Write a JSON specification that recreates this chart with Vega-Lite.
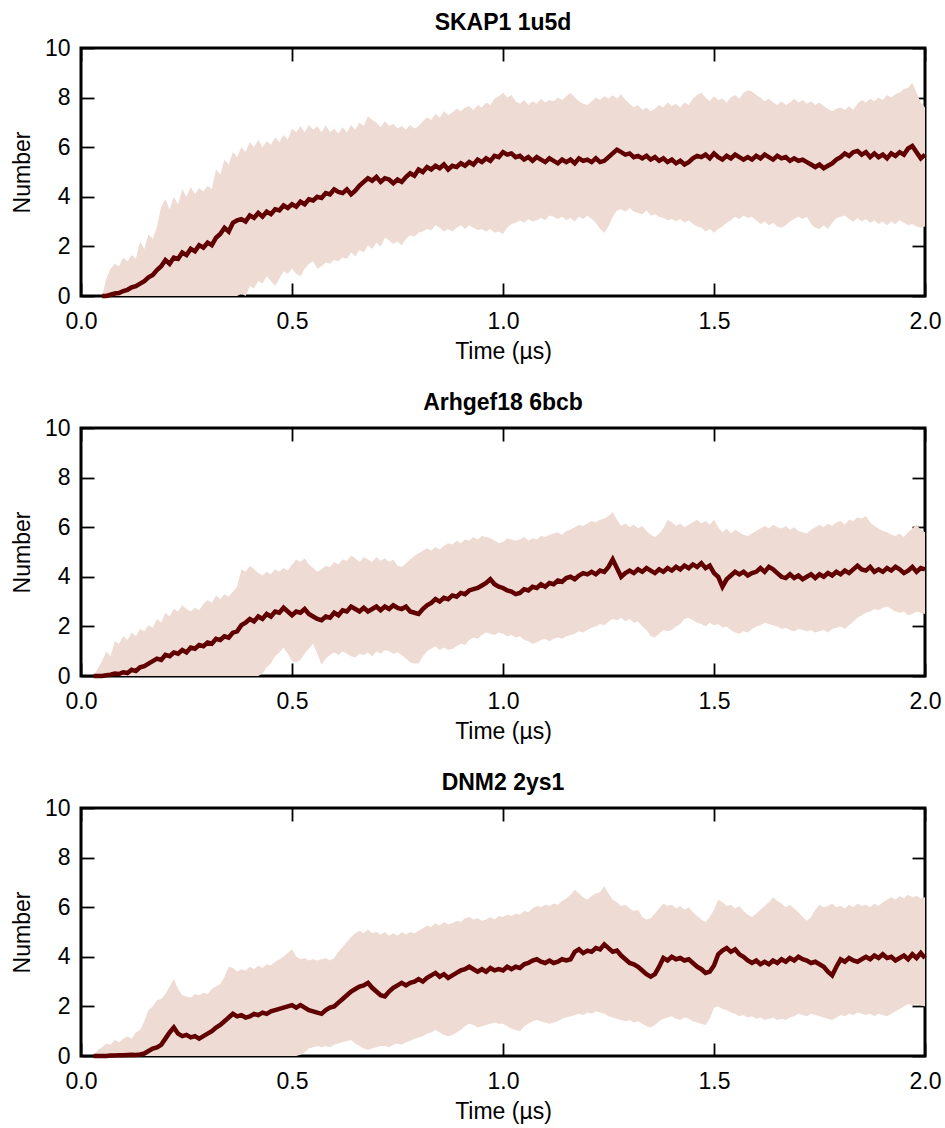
{
"$schema":"https://vega.github.io/schema/vega-lite/v6.json",
"padding":{"left":9,"top":10,"right":15,"bottom":5},
"bounds":"flush",
"spacing":132,
"config":{
 "view":{"stroke":"black","strokeWidth":3},
 "font":"Liberation Sans",
 "axis":{"labelFont":"Liberation Sans","labelFontSize":23,"labelColor":"black","titleFont":"Liberation Sans","titleFontSize":23,"titleFontWeight":"normal","titleColor":"black","tickColor":"black","tickWidth":1.8,"tickSize":-13,"domain":false,"grid":false,"labelFlush":false,"labelOverlap":false,"labelBound":false},
 "title":{"font":"Liberation Sans","fontSize":23,"fontWeight":"bold","color":"black","offset":2,"baseline":"alphabetic"}
},
"datasets":{
"a":[
{"t":0.05,"m":0,"l":0,"h":0},{"t":0.06,"m":0,"l":0,"h":0.7},{"t":0.07,"m":0.05,"l":0,"h":1.1},{"t":0.08,"m":0.1,"l":0,"h":1.3},{"t":0.09,"m":0.12,"l":0,"h":1.2},{"t":0.1,"m":0.2,"l":0,"h":1.55},{"t":0.11,"m":0.25,"l":0,"h":1.4},{"t":0.12,"m":0.35,"l":0,"h":1.65},{"t":0.13,"m":0.4,"l":0,"h":1.5},{"t":0.14,"m":0.5,"l":0,"h":2.2},{"t":0.15,"m":0.6,"l":0,"h":1.9},{"t":0.16,"m":0.75,"l":0,"h":2.5},{"t":0.17,"m":0.85,"l":0,"h":2.3},{"t":0.18,"m":1.05,"l":0,"h":2.8},{"t":0.19,"m":1.2,"l":0,"h":3.6},{"t":0.2,"m":1.45,"l":0,"h":3.9},{"t":0.21,"m":1.3,"l":0,"h":3.5},{"t":0.22,"m":1.55,"l":0,"h":4.0},{"t":0.23,"m":1.5,"l":0,"h":3.7},{"t":0.24,"m":1.75,"l":0,"h":4.3},{"t":0.25,"m":1.65,"l":0,"h":4.0},{"t":0.26,"m":1.9,"l":0,"h":4.4},{"t":0.27,"m":1.8,"l":0,"h":4.1},{"t":0.28,"m":2.05,"l":0,"h":4.35},{"t":0.29,"m":1.95,"l":0,"h":4.2},{"t":0.3,"m":2.15,"l":0,"h":4.45},{"t":0.31,"m":2.05,"l":0,"h":4.3},{"t":0.32,"m":2.35,"l":0,"h":5.1},{"t":0.33,"m":2.5,"l":0,"h":4.9},{"t":0.34,"m":2.75,"l":0,"h":5.5},{"t":0.35,"m":2.6,"l":0,"h":5.3},{"t":0.36,"m":2.95,"l":0,"h":5.8},{"t":0.37,"m":3.05,"l":0,"h":5.6},{"t":0.38,"m":3.1,"l":0.1,"h":6.0},{"t":0.39,"m":3.0,"l":0,"h":5.8},{"t":0.4,"m":3.25,"l":0.4,"h":6.2},{"t":0.41,"m":3.15,"l":0.3,"h":6.0},{"t":0.42,"m":3.35,"l":0.6,"h":6.3},{"t":0.43,"m":3.2,"l":0.5,"h":6.0},{"t":0.44,"m":3.4,"l":0.8,"h":6.25},{"t":0.45,"m":3.3,"l":0.6,"h":6.1},{"t":0.46,"m":3.5,"l":0.4,"h":6.4},{"t":0.47,"m":3.45,"l":0.7,"h":6.2},{"t":0.48,"m":3.65,"l":1.0,"h":6.5},{"t":0.49,"m":3.55,"l":0.9,"h":6.3},{"t":0.5,"m":3.7,"l":1.1,"h":6.75},{"t":0.51,"m":3.6,"l":0.9,"h":6.6},{"t":0.52,"m":3.8,"l":0.8,"h":6.85},{"t":0.53,"m":3.7,"l":1.1,"h":6.6},{"t":0.54,"m":3.9,"l":1.3,"h":6.9},{"t":0.55,"m":3.85,"l":1.4,"h":6.7},{"t":0.56,"m":4.0,"l":1.1,"h":6.85},{"t":0.57,"m":3.95,"l":1.2,"h":6.6},{"t":0.58,"m":4.15,"l":1.35,"h":6.9},{"t":0.59,"m":4.1,"l":1.3,"h":6.6},{"t":0.6,"m":4.3,"l":1.45,"h":6.75},{"t":0.61,"m":4.2,"l":1.4,"h":6.55},{"t":0.62,"m":4.15,"l":1.55,"h":6.8},{"t":0.63,"m":4.3,"l":1.5,"h":6.6},{"t":0.64,"m":4.1,"l":1.75,"h":6.9},{"t":0.65,"m":4.25,"l":1.6,"h":6.7},{"t":0.66,"m":4.45,"l":1.85,"h":7.0},{"t":0.67,"m":4.6,"l":1.75,"h":6.85},{"t":0.68,"m":4.75,"l":2.05,"h":7.25},{"t":0.69,"m":4.65,"l":1.9,"h":7.1},{"t":0.7,"m":4.8,"l":2.15,"h":7.0},{"t":0.71,"m":4.6,"l":2.0,"h":6.8},{"t":0.72,"m":4.75,"l":2.35,"h":7.05},{"t":0.73,"m":4.7,"l":2.25,"h":6.85},{"t":0.74,"m":4.55,"l":2.1,"h":6.95},{"t":0.75,"m":4.7,"l":2.2,"h":6.75},{"t":0.76,"m":4.6,"l":2.05,"h":6.85},{"t":0.77,"m":4.8,"l":2.3,"h":6.7},{"t":0.78,"m":4.95,"l":2.45,"h":6.9},{"t":0.79,"m":4.85,"l":2.4,"h":6.75},{"t":0.8,"m":5.1,"l":2.55,"h":6.85},{"t":0.81,"m":5.0,"l":2.6,"h":7.05},{"t":0.82,"m":5.2,"l":2.7,"h":7.2},{"t":0.83,"m":5.1,"l":2.65,"h":7.1},{"t":0.84,"m":5.25,"l":2.85,"h":7.35},{"t":0.85,"m":5.15,"l":2.75,"h":7.2},{"t":0.86,"m":5.3,"l":2.6,"h":7.45},{"t":0.87,"m":5.1,"l":2.7,"h":7.3},{"t":0.88,"m":5.25,"l":2.6,"h":7.4},{"t":0.89,"m":5.2,"l":2.75,"h":7.55},{"t":0.9,"m":5.35,"l":2.85,"h":7.45},{"t":0.91,"m":5.25,"l":2.7,"h":7.6},{"t":0.92,"m":5.4,"l":2.85,"h":7.65},{"t":0.93,"m":5.3,"l":2.75,"h":7.5},{"t":0.94,"m":5.5,"l":2.65,"h":7.7},{"t":0.95,"m":5.4,"l":2.7,"h":7.6},{"t":0.96,"m":5.55,"l":2.6,"h":7.8},{"t":0.97,"m":5.45,"l":2.7,"h":7.7},{"t":0.98,"m":5.65,"l":2.55,"h":7.95},{"t":0.99,"m":5.6,"l":2.6,"h":8.05},{"t":1.0,"m":5.8,"l":2.5,"h":8.2},{"t":1.01,"m":5.7,"l":2.75,"h":8.0},{"t":1.02,"m":5.75,"l":2.9,"h":8.1},{"t":1.03,"m":5.6,"l":2.95,"h":7.85},{"t":1.04,"m":5.65,"l":3.05,"h":7.75},{"t":1.05,"m":5.5,"l":2.95,"h":7.9},{"t":1.06,"m":5.6,"l":3.1,"h":7.7},{"t":1.07,"m":5.45,"l":3.0,"h":7.85},{"t":1.08,"m":5.6,"l":3.05,"h":7.75},{"t":1.09,"m":5.5,"l":3.15,"h":7.95},{"t":1.1,"m":5.4,"l":3.05,"h":7.8},{"t":1.11,"m":5.55,"l":3.25,"h":7.9},{"t":1.12,"m":5.45,"l":3.2,"h":7.85},{"t":1.13,"m":5.35,"l":3.1,"h":8.0},{"t":1.14,"m":5.5,"l":3.2,"h":7.9},{"t":1.15,"m":5.4,"l":3.05,"h":8.05},{"t":1.16,"m":5.5,"l":3.15,"h":8.2},{"t":1.17,"m":5.35,"l":3.0,"h":8.0},{"t":1.18,"m":5.55,"l":3.2,"h":7.85},{"t":1.19,"m":5.45,"l":3.1,"h":7.75},{"t":1.2,"m":5.5,"l":3.25,"h":7.7},{"t":1.21,"m":5.4,"l":3.1,"h":7.85},{"t":1.22,"m":5.55,"l":2.95,"h":8.0},{"t":1.23,"m":5.4,"l":2.7,"h":7.9},{"t":1.24,"m":5.45,"l":2.55,"h":8.05},{"t":1.25,"m":5.6,"l":2.8,"h":7.95},{"t":1.26,"m":5.75,"l":3.2,"h":8.1},{"t":1.27,"m":5.9,"l":3.45,"h":7.95},{"t":1.28,"m":5.8,"l":3.5,"h":8.15},{"t":1.29,"m":5.7,"l":3.4,"h":7.9},{"t":1.3,"m":5.75,"l":3.55,"h":7.75},{"t":1.31,"m":5.6,"l":3.4,"h":7.6},{"t":1.32,"m":5.65,"l":3.35,"h":7.7},{"t":1.33,"m":5.55,"l":3.3,"h":7.5},{"t":1.34,"m":5.65,"l":3.45,"h":7.6},{"t":1.35,"m":5.5,"l":3.25,"h":7.45},{"t":1.36,"m":5.6,"l":3.3,"h":7.55},{"t":1.37,"m":5.45,"l":3.2,"h":7.7},{"t":1.38,"m":5.55,"l":3.15,"h":7.6},{"t":1.39,"m":5.4,"l":3.05,"h":7.8},{"t":1.4,"m":5.5,"l":3.1,"h":7.65},{"t":1.41,"m":5.35,"l":3.0,"h":7.75},{"t":1.42,"m":5.45,"l":3.1,"h":7.6},{"t":1.43,"m":5.3,"l":2.95,"h":7.8},{"t":1.44,"m":5.4,"l":3.05,"h":7.7},{"t":1.45,"m":5.55,"l":2.9,"h":7.95},{"t":1.46,"m":5.65,"l":2.8,"h":8.1},{"t":1.47,"m":5.6,"l":2.75,"h":8.2},{"t":1.48,"m":5.7,"l":2.6,"h":8.0},{"t":1.49,"m":5.55,"l":2.7,"h":7.85},{"t":1.5,"m":5.75,"l":2.55,"h":8.05},{"t":1.51,"m":5.6,"l":2.7,"h":7.9},{"t":1.52,"m":5.5,"l":2.8,"h":7.95},{"t":1.53,"m":5.65,"l":2.95,"h":7.8},{"t":1.54,"m":5.55,"l":3.05,"h":8.0},{"t":1.55,"m":5.7,"l":3.2,"h":8.1},{"t":1.56,"m":5.6,"l":3.1,"h":7.95},{"t":1.57,"m":5.5,"l":3.25,"h":8.2},{"t":1.58,"m":5.6,"l":3.15,"h":8.3},{"t":1.59,"m":5.5,"l":3.2,"h":8.25},{"t":1.6,"m":5.65,"l":3.05,"h":8.1},{"t":1.61,"m":5.55,"l":2.9,"h":8.0},{"t":1.62,"m":5.7,"l":3.0,"h":7.85},{"t":1.63,"m":5.6,"l":2.85,"h":7.95},{"t":1.64,"m":5.5,"l":2.95,"h":7.8},{"t":1.65,"m":5.65,"l":2.8,"h":7.7},{"t":1.66,"m":5.55,"l":2.75,"h":7.85},{"t":1.67,"m":5.6,"l":2.85,"h":7.7},{"t":1.68,"m":5.45,"l":3.0,"h":7.8},{"t":1.69,"m":5.55,"l":3.1,"h":7.95},{"t":1.7,"m":5.45,"l":3.2,"h":7.8},{"t":1.71,"m":5.5,"l":3.1,"h":7.9},{"t":1.72,"m":5.4,"l":3.2,"h":7.75},{"t":1.73,"m":5.3,"l":2.9,"h":7.85},{"t":1.74,"m":5.2,"l":2.75,"h":7.7},{"t":1.75,"m":5.3,"l":2.7,"h":7.8},{"t":1.76,"m":5.15,"l":2.85,"h":7.65},{"t":1.77,"m":5.25,"l":2.7,"h":7.55},{"t":1.78,"m":5.35,"l":2.95,"h":7.45},{"t":1.79,"m":5.5,"l":3.15,"h":7.55},{"t":1.8,"m":5.6,"l":3.2,"h":7.6},{"t":1.81,"m":5.75,"l":3.25,"h":7.5},{"t":1.82,"m":5.65,"l":3.1,"h":7.65},{"t":1.83,"m":5.8,"l":3.0,"h":7.5},{"t":1.84,"m":5.85,"l":3.15,"h":7.75},{"t":1.85,"m":5.7,"l":3.0,"h":7.9},{"t":1.86,"m":5.8,"l":3.1,"h":7.8},{"t":1.87,"m":5.6,"l":2.95,"h":7.95},{"t":1.88,"m":5.75,"l":3.05,"h":7.85},{"t":1.89,"m":5.6,"l":2.9,"h":8.0},{"t":1.9,"m":5.7,"l":3.0,"h":7.9},{"t":1.91,"m":5.55,"l":2.85,"h":8.1},{"t":1.92,"m":5.75,"l":3.0,"h":8.0},{"t":1.93,"m":5.65,"l":2.9,"h":8.15},{"t":1.94,"m":5.8,"l":3.05,"h":8.2},{"t":1.95,"m":5.7,"l":2.95,"h":8.35},{"t":1.96,"m":5.95,"l":2.85,"h":8.4},{"t":1.97,"m":6.05,"l":2.9,"h":8.6},{"t":1.98,"m":5.8,"l":2.8,"h":8.2},{"t":1.99,"m":5.55,"l":2.75,"h":7.8},{"t":2.0,"m":5.7,"l":2.8,"h":7.6}
],
"b":[
{"t":0.03,"m":0,"l":0,"h":0},{"t":0.04,"m":0,"l":0,"h":0.3},{"t":0.05,"m":0,"l":0,"h":0.6},{"t":0.06,"m":0.03,"l":0,"h":1.0},{"t":0.07,"m":0.05,"l":0,"h":0.8},{"t":0.08,"m":0.1,"l":0,"h":1.4},{"t":0.09,"m":0.08,"l":0,"h":1.3},{"t":0.1,"m":0.15,"l":0,"h":1.6},{"t":0.11,"m":0.12,"l":0,"h":1.45},{"t":0.12,"m":0.25,"l":0,"h":1.75},{"t":0.13,"m":0.2,"l":0,"h":1.6},{"t":0.14,"m":0.35,"l":0,"h":1.9},{"t":0.15,"m":0.4,"l":0,"h":1.8},{"t":0.16,"m":0.5,"l":0,"h":2.05},{"t":0.17,"m":0.6,"l":0,"h":1.95},{"t":0.18,"m":0.7,"l":0,"h":2.3},{"t":0.19,"m":0.65,"l":0,"h":2.15},{"t":0.2,"m":0.85,"l":0,"h":2.55},{"t":0.21,"m":0.8,"l":0,"h":2.4},{"t":0.22,"m":0.95,"l":0,"h":2.7},{"t":0.23,"m":0.9,"l":0,"h":2.6},{"t":0.24,"m":1.05,"l":0,"h":2.85},{"t":0.25,"m":0.95,"l":0,"h":2.7},{"t":0.26,"m":1.15,"l":0,"h":2.6},{"t":0.27,"m":1.1,"l":0,"h":2.75},{"t":0.28,"m":1.25,"l":0,"h":2.65},{"t":0.29,"m":1.2,"l":0,"h":2.9},{"t":0.3,"m":1.35,"l":0,"h":3.05},{"t":0.31,"m":1.3,"l":0,"h":2.95},{"t":0.32,"m":1.5,"l":0,"h":3.25},{"t":0.33,"m":1.45,"l":0,"h":3.1},{"t":0.34,"m":1.6,"l":0,"h":3.3},{"t":0.35,"m":1.55,"l":0,"h":3.2},{"t":0.36,"m":1.75,"l":0,"h":3.4},{"t":0.37,"m":1.8,"l":0,"h":3.6},{"t":0.38,"m":2.05,"l":0,"h":4.3},{"t":0.39,"m":2.15,"l":0,"h":4.2},{"t":0.4,"m":2.3,"l":0,"h":4.45},{"t":0.41,"m":2.2,"l":0,"h":4.3},{"t":0.42,"m":2.4,"l":0,"h":4.15},{"t":0.43,"m":2.3,"l":0.1,"h":4.05},{"t":0.44,"m":2.5,"l":0.35,"h":4.2},{"t":0.45,"m":2.4,"l":0.5,"h":4.1},{"t":0.46,"m":2.6,"l":0.8,"h":4.3},{"t":0.47,"m":2.55,"l":0.95,"h":4.2},{"t":0.48,"m":2.75,"l":1.15,"h":4.35},{"t":0.49,"m":2.6,"l":0.9,"h":4.25},{"t":0.5,"m":2.45,"l":0.6,"h":4.5},{"t":0.51,"m":2.6,"l":0.55,"h":4.7},{"t":0.52,"m":2.55,"l":0.65,"h":4.6},{"t":0.53,"m":2.7,"l":0.9,"h":4.75},{"t":0.54,"m":2.5,"l":1.1,"h":4.5},{"t":0.55,"m":2.4,"l":1.3,"h":4.35},{"t":0.56,"m":2.3,"l":0.9,"h":4.2},{"t":0.57,"m":2.25,"l":0.45,"h":4.3},{"t":0.58,"m":2.4,"l":0.7,"h":4.45},{"t":0.59,"m":2.35,"l":0.85,"h":4.4},{"t":0.6,"m":2.55,"l":0.95,"h":4.6},{"t":0.61,"m":2.45,"l":0.85,"h":4.5},{"t":0.62,"m":2.65,"l":1.0,"h":4.7},{"t":0.63,"m":2.6,"l":0.9,"h":4.65},{"t":0.64,"m":2.8,"l":0.8,"h":4.85},{"t":0.65,"m":2.7,"l":0.75,"h":4.75},{"t":0.66,"m":2.6,"l":0.9,"h":4.6},{"t":0.67,"m":2.75,"l":0.85,"h":4.8},{"t":0.68,"m":2.6,"l":0.95,"h":4.7},{"t":0.69,"m":2.7,"l":0.8,"h":4.6},{"t":0.7,"m":2.8,"l":1.0,"h":4.8},{"t":0.71,"m":2.65,"l":0.9,"h":4.65},{"t":0.72,"m":2.8,"l":1.05,"h":4.75},{"t":0.73,"m":2.7,"l":1.0,"h":4.6},{"t":0.74,"m":2.85,"l":0.9,"h":4.7},{"t":0.75,"m":2.75,"l":0.95,"h":4.45},{"t":0.76,"m":2.7,"l":0.85,"h":4.4},{"t":0.77,"m":2.8,"l":0.7,"h":4.55},{"t":0.78,"m":2.6,"l":0.55,"h":4.7},{"t":0.79,"m":2.55,"l":0.5,"h":4.85},{"t":0.8,"m":2.5,"l":0.5,"h":4.95},{"t":0.81,"m":2.7,"l":0.8,"h":5.05},{"t":0.82,"m":2.85,"l":1.0,"h":5.15},{"t":0.83,"m":2.95,"l":1.1,"h":5.05},{"t":0.84,"m":3.1,"l":1.2,"h":5.2},{"t":0.85,"m":3.0,"l":1.05,"h":5.1},{"t":0.86,"m":3.15,"l":1.15,"h":5.25},{"t":0.87,"m":3.1,"l":1.05,"h":5.35},{"t":0.88,"m":3.25,"l":1.1,"h":5.3},{"t":0.89,"m":3.2,"l":1.2,"h":5.45},{"t":0.9,"m":3.35,"l":1.3,"h":5.35},{"t":0.91,"m":3.3,"l":1.25,"h":5.5},{"t":0.92,"m":3.45,"l":1.45,"h":5.45},{"t":0.93,"m":3.5,"l":1.55,"h":5.6},{"t":0.94,"m":3.55,"l":1.5,"h":5.5},{"t":0.95,"m":3.65,"l":1.65,"h":5.65},{"t":0.96,"m":3.75,"l":1.75,"h":5.6},{"t":0.97,"m":3.9,"l":1.7,"h":5.55},{"t":0.98,"m":3.7,"l":1.65,"h":5.45},{"t":0.99,"m":3.6,"l":1.75,"h":5.35},{"t":1.0,"m":3.55,"l":1.7,"h":5.4},{"t":1.01,"m":3.45,"l":1.6,"h":5.55},{"t":1.02,"m":3.4,"l":1.65,"h":5.5},{"t":1.03,"m":3.3,"l":1.55,"h":5.45},{"t":1.04,"m":3.35,"l":1.6,"h":5.5},{"t":1.05,"m":3.5,"l":1.45,"h":5.6},{"t":1.06,"m":3.45,"l":1.4,"h":5.45},{"t":1.07,"m":3.6,"l":1.3,"h":5.55},{"t":1.08,"m":3.55,"l":1.35,"h":5.5},{"t":1.09,"m":3.7,"l":1.45,"h":5.65},{"t":1.1,"m":3.6,"l":1.5,"h":5.6},{"t":1.11,"m":3.75,"l":1.4,"h":5.7},{"t":1.12,"m":3.7,"l":1.5,"h":5.75},{"t":1.13,"m":3.85,"l":1.55,"h":5.8},{"t":1.14,"m":3.8,"l":1.5,"h":5.7},{"t":1.15,"m":3.95,"l":1.6,"h":5.85},{"t":1.16,"m":4.0,"l":1.65,"h":5.9},{"t":1.17,"m":3.9,"l":1.7,"h":6.0},{"t":1.18,"m":4.05,"l":1.8,"h":6.1},{"t":1.19,"m":4.15,"l":1.75,"h":6.05},{"t":1.2,"m":4.1,"l":1.85,"h":6.15},{"t":1.21,"m":4.2,"l":1.95,"h":6.25},{"t":1.22,"m":4.1,"l":2.0,"h":6.2},{"t":1.23,"m":4.25,"l":2.1,"h":6.3},{"t":1.24,"m":4.2,"l":2.05,"h":6.35},{"t":1.25,"m":4.4,"l":2.2,"h":6.45},{"t":1.26,"m":4.7,"l":2.3,"h":6.6},{"t":1.27,"m":4.35,"l":2.25,"h":6.3},{"t":1.28,"m":4.0,"l":2.35,"h":6.05},{"t":1.29,"m":4.15,"l":2.2,"h":6.15},{"t":1.3,"m":4.25,"l":2.3,"h":6.0},{"t":1.31,"m":4.15,"l":2.15,"h":6.1},{"t":1.32,"m":4.3,"l":2.2,"h":5.95},{"t":1.33,"m":4.2,"l":2.0,"h":6.05},{"t":1.34,"m":4.35,"l":1.85,"h":5.85},{"t":1.35,"m":4.25,"l":1.6,"h":5.7},{"t":1.36,"m":4.15,"l":1.55,"h":5.6},{"t":1.37,"m":4.3,"l":1.7,"h":5.75},{"t":1.38,"m":4.2,"l":1.85,"h":5.95},{"t":1.39,"m":4.35,"l":1.8,"h":6.3},{"t":1.4,"m":4.25,"l":1.85,"h":6.2},{"t":1.41,"m":4.4,"l":2.0,"h":6.05},{"t":1.42,"m":4.3,"l":2.1,"h":6.15},{"t":1.43,"m":4.45,"l":2.3,"h":6.0},{"t":1.44,"m":4.35,"l":2.35,"h":6.1},{"t":1.45,"m":4.5,"l":2.25,"h":6.2},{"t":1.46,"m":4.4,"l":2.15,"h":6.3},{"t":1.47,"m":4.55,"l":2.1,"h":6.15},{"t":1.48,"m":4.35,"l":2.0,"h":6.25},{"t":1.49,"m":4.45,"l":2.15,"h":6.1},{"t":1.5,"m":4.15,"l":2.05,"h":6.3},{"t":1.51,"m":4.0,"l":2.1,"h":6.0},{"t":1.52,"m":3.6,"l":1.95,"h":5.8},{"t":1.53,"m":3.9,"l":2.0,"h":5.95},{"t":1.54,"m":4.05,"l":1.85,"h":5.75},{"t":1.55,"m":4.2,"l":1.75,"h":5.9},{"t":1.56,"m":4.1,"l":1.7,"h":5.8},{"t":1.57,"m":4.2,"l":1.8,"h":5.7},{"t":1.58,"m":4.05,"l":1.75,"h":5.65},{"t":1.59,"m":4.15,"l":1.9,"h":5.75},{"t":1.6,"m":4.2,"l":2.0,"h":5.85},{"t":1.61,"m":4.35,"l":2.05,"h":5.95},{"t":1.62,"m":4.2,"l":2.15,"h":6.05},{"t":1.63,"m":4.4,"l":2.1,"h":5.95},{"t":1.64,"m":4.3,"l":2.05,"h":6.1},{"t":1.65,"m":4.15,"l":2.0,"h":6.0},{"t":1.66,"m":4.0,"l":1.9,"h":5.95},{"t":1.67,"m":3.95,"l":1.95,"h":6.05},{"t":1.68,"m":4.1,"l":1.85,"h":5.9},{"t":1.69,"m":3.95,"l":1.8,"h":6.0},{"t":1.7,"m":4.05,"l":1.9,"h":5.85},{"t":1.71,"m":3.9,"l":1.85,"h":5.8},{"t":1.72,"m":4.0,"l":1.8,"h":5.75},{"t":1.73,"m":4.1,"l":1.85,"h":5.9},{"t":1.74,"m":3.95,"l":1.75,"h":6.0},{"t":1.75,"m":4.1,"l":1.8,"h":6.1},{"t":1.76,"m":4.0,"l":1.85,"h":6.0},{"t":1.77,"m":4.15,"l":1.75,"h":6.15},{"t":1.78,"m":4.05,"l":1.9,"h":6.05},{"t":1.79,"m":4.2,"l":1.95,"h":6.2},{"t":1.8,"m":4.1,"l":2.0,"h":6.25},{"t":1.81,"m":4.25,"l":1.9,"h":6.1},{"t":1.82,"m":4.15,"l":2.05,"h":6.3},{"t":1.83,"m":4.3,"l":2.2,"h":6.25},{"t":1.84,"m":4.45,"l":2.35,"h":6.4},{"t":1.85,"m":4.3,"l":2.45,"h":6.35},{"t":1.86,"m":4.25,"l":2.55,"h":6.45},{"t":1.87,"m":4.4,"l":2.6,"h":6.2},{"t":1.88,"m":4.2,"l":2.7,"h":6.05},{"t":1.89,"m":4.3,"l":2.65,"h":5.95},{"t":1.9,"m":4.2,"l":2.75,"h":5.85},{"t":1.91,"m":4.35,"l":2.8,"h":5.8},{"t":1.92,"m":4.25,"l":2.7,"h":5.7},{"t":1.93,"m":4.4,"l":2.6,"h":5.65},{"t":1.94,"m":4.3,"l":2.55,"h":5.75},{"t":1.95,"m":4.15,"l":2.6,"h":5.6},{"t":1.96,"m":4.25,"l":2.45,"h":5.8},{"t":1.97,"m":4.4,"l":2.5,"h":5.95},{"t":1.98,"m":4.2,"l":2.6,"h":6.1},{"t":1.99,"m":4.35,"l":2.55,"h":5.9},{"t":2.0,"m":4.3,"l":2.5,"h":5.8}
],
"c":[
{"t":0.03,"m":0,"l":0,"h":0},{"t":0.04,"m":0,"l":0,"h":0.25},{"t":0.05,"m":0,"l":0,"h":0.35},{"t":0.06,"m":0,"l":0,"h":0.5},{"t":0.07,"m":0.02,"l":0,"h":0.45},{"t":0.08,"m":0.02,"l":0,"h":0.65},{"t":0.09,"m":0.03,"l":0,"h":0.55},{"t":0.1,"m":0.03,"l":0,"h":0.7},{"t":0.11,"m":0.04,"l":0,"h":0.8},{"t":0.12,"m":0.05,"l":0,"h":0.7},{"t":0.13,"m":0.04,"l":0,"h":0.95},{"t":0.14,"m":0.06,"l":0,"h":1.05},{"t":0.15,"m":0.1,"l":0,"h":1.4},{"t":0.16,"m":0.2,"l":0,"h":1.85},{"t":0.17,"m":0.3,"l":0,"h":2.0},{"t":0.18,"m":0.35,"l":0,"h":2.25},{"t":0.19,"m":0.45,"l":0,"h":2.3},{"t":0.2,"m":0.7,"l":0,"h":2.5},{"t":0.21,"m":0.95,"l":0,"h":2.8},{"t":0.22,"m":1.15,"l":0,"h":3.1},{"t":0.23,"m":0.9,"l":0,"h":2.7},{"t":0.24,"m":0.8,"l":0,"h":2.45},{"t":0.25,"m":0.85,"l":0,"h":2.4},{"t":0.26,"m":0.75,"l":0,"h":2.35},{"t":0.27,"m":0.8,"l":0,"h":2.5},{"t":0.28,"m":0.7,"l":0,"h":2.45},{"t":0.29,"m":0.8,"l":0,"h":2.55},{"t":0.3,"m":0.9,"l":0,"h":2.5},{"t":0.31,"m":1.0,"l":0,"h":2.7},{"t":0.32,"m":1.15,"l":0,"h":2.8},{"t":0.33,"m":1.25,"l":0,"h":2.9},{"t":0.34,"m":1.4,"l":0,"h":3.2},{"t":0.35,"m":1.55,"l":0,"h":3.6},{"t":0.36,"m":1.7,"l":0,"h":3.55},{"t":0.37,"m":1.6,"l":0,"h":3.4},{"t":0.38,"m":1.65,"l":0,"h":3.5},{"t":0.39,"m":1.55,"l":0,"h":3.45},{"t":0.4,"m":1.6,"l":0,"h":3.6},{"t":0.41,"m":1.7,"l":0,"h":3.5},{"t":0.42,"m":1.65,"l":0,"h":3.65},{"t":0.43,"m":1.75,"l":0,"h":3.55},{"t":0.44,"m":1.7,"l":0,"h":3.7},{"t":0.45,"m":1.8,"l":0,"h":3.65},{"t":0.46,"m":1.85,"l":0,"h":3.8},{"t":0.47,"m":1.9,"l":0,"h":3.9},{"t":0.48,"m":1.95,"l":0,"h":4.0},{"t":0.49,"m":2.0,"l":0,"h":4.15},{"t":0.5,"m":2.05,"l":0,"h":4.3},{"t":0.51,"m":1.95,"l":0,"h":4.0},{"t":0.52,"m":2.05,"l":0.05,"h":3.9},{"t":0.53,"m":1.95,"l":0.15,"h":3.95},{"t":0.54,"m":1.85,"l":0.3,"h":3.85},{"t":0.55,"m":1.8,"l":0.35,"h":3.9},{"t":0.56,"m":1.75,"l":0.4,"h":3.85},{"t":0.57,"m":1.7,"l":0.35,"h":3.9},{"t":0.58,"m":1.85,"l":0.4,"h":3.95},{"t":0.59,"m":1.95,"l":0.35,"h":3.85},{"t":0.6,"m":2.0,"l":0.45,"h":3.95},{"t":0.61,"m":2.15,"l":0.5,"h":4.2},{"t":0.62,"m":2.3,"l":0.55,"h":4.4},{"t":0.63,"m":2.45,"l":0.6,"h":4.6},{"t":0.64,"m":2.6,"l":0.65,"h":4.8},{"t":0.65,"m":2.7,"l":0.5,"h":4.95},{"t":0.66,"m":2.8,"l":0.4,"h":5.05},{"t":0.67,"m":2.85,"l":0.3,"h":4.95},{"t":0.68,"m":2.95,"l":0.25,"h":5.1},{"t":0.69,"m":2.75,"l":0.3,"h":4.95},{"t":0.7,"m":2.6,"l":0.35,"h":5.0},{"t":0.71,"m":2.45,"l":0.4,"h":4.9},{"t":0.72,"m":2.4,"l":0.4,"h":5.0},{"t":0.73,"m":2.6,"l":0.35,"h":4.85},{"t":0.74,"m":2.75,"l":0.45,"h":4.95},{"t":0.75,"m":2.85,"l":0.5,"h":4.85},{"t":0.76,"m":2.95,"l":0.45,"h":5.0},{"t":0.77,"m":2.85,"l":0.55,"h":4.9},{"t":0.78,"m":2.95,"l":0.6,"h":5.0},{"t":0.79,"m":3.0,"l":0.7,"h":4.95},{"t":0.8,"m":3.1,"l":0.75,"h":5.05},{"t":0.81,"m":3.0,"l":0.8,"h":5.15},{"t":0.82,"m":3.15,"l":0.9,"h":5.25},{"t":0.83,"m":3.25,"l":0.95,"h":5.2},{"t":0.84,"m":3.35,"l":1.05,"h":5.35},{"t":0.85,"m":3.2,"l":0.95,"h":5.25},{"t":0.86,"m":3.3,"l":0.85,"h":5.4},{"t":0.87,"m":3.15,"l":0.8,"h":5.3},{"t":0.88,"m":3.25,"l":0.85,"h":5.35},{"t":0.89,"m":3.35,"l":0.95,"h":5.45},{"t":0.9,"m":3.45,"l":1.05,"h":5.4},{"t":0.91,"m":3.5,"l":1.2,"h":5.55},{"t":0.92,"m":3.6,"l":1.3,"h":5.6},{"t":0.93,"m":3.5,"l":1.25,"h":5.5},{"t":0.94,"m":3.4,"l":1.15,"h":5.55},{"t":0.95,"m":3.5,"l":1.2,"h":5.45},{"t":0.96,"m":3.4,"l":1.25,"h":5.5},{"t":0.97,"m":3.55,"l":1.3,"h":5.6},{"t":0.98,"m":3.45,"l":1.35,"h":5.5},{"t":0.99,"m":3.5,"l":1.3,"h":5.65},{"t":1.0,"m":3.45,"l":1.3,"h":5.6},{"t":1.01,"m":3.6,"l":1.2,"h":5.7},{"t":1.02,"m":3.5,"l":1.1,"h":5.65},{"t":1.03,"m":3.6,"l":1.05,"h":5.75},{"t":1.04,"m":3.55,"l":1.0,"h":5.7},{"t":1.05,"m":3.7,"l":1.2,"h":5.85},{"t":1.06,"m":3.75,"l":1.3,"h":5.8},{"t":1.07,"m":3.85,"l":1.4,"h":5.95},{"t":1.08,"m":3.9,"l":1.45,"h":6.05},{"t":1.09,"m":3.8,"l":1.4,"h":6.0},{"t":1.1,"m":3.75,"l":1.35,"h":6.1},{"t":1.11,"m":3.85,"l":1.3,"h":6.05},{"t":1.12,"m":3.75,"l":1.35,"h":6.15},{"t":1.13,"m":3.8,"l":1.4,"h":6.1},{"t":1.14,"m":3.9,"l":1.5,"h":6.25},{"t":1.15,"m":3.85,"l":1.55,"h":6.35},{"t":1.16,"m":3.9,"l":1.6,"h":6.5},{"t":1.17,"m":4.2,"l":1.65,"h":6.7},{"t":1.18,"m":4.3,"l":1.7,"h":6.55},{"t":1.19,"m":4.15,"l":1.65,"h":6.4},{"t":1.2,"m":4.25,"l":1.75,"h":6.3},{"t":1.21,"m":4.2,"l":1.7,"h":6.45},{"t":1.22,"m":4.35,"l":1.8,"h":6.55},{"t":1.23,"m":4.3,"l":1.75,"h":6.6},{"t":1.24,"m":4.5,"l":1.7,"h":6.85},{"t":1.25,"m":4.35,"l":1.6,"h":6.55},{"t":1.26,"m":4.2,"l":1.55,"h":6.3},{"t":1.27,"m":4.25,"l":1.5,"h":6.2},{"t":1.28,"m":4.05,"l":1.45,"h":6.05},{"t":1.29,"m":3.9,"l":1.4,"h":6.1},{"t":1.3,"m":3.75,"l":1.45,"h":5.95},{"t":1.31,"m":3.7,"l":1.35,"h":5.85},{"t":1.32,"m":3.6,"l":1.4,"h":5.9},{"t":1.33,"m":3.45,"l":1.3,"h":5.6},{"t":1.34,"m":3.3,"l":1.2,"h":5.5},{"t":1.35,"m":3.2,"l":1.15,"h":5.55},{"t":1.36,"m":3.3,"l":1.25,"h":5.75},{"t":1.37,"m":3.6,"l":1.4,"h":5.95},{"t":1.38,"m":3.95,"l":1.5,"h":6.15},{"t":1.39,"m":3.85,"l":1.55,"h":6.05},{"t":1.4,"m":4.0,"l":1.6,"h":6.1},{"t":1.41,"m":3.9,"l":1.5,"h":5.95},{"t":1.42,"m":3.95,"l":1.45,"h":6.05},{"t":1.43,"m":3.85,"l":1.55,"h":5.9},{"t":1.44,"m":3.9,"l":1.5,"h":6.0},{"t":1.45,"m":3.75,"l":1.4,"h":5.8},{"t":1.46,"m":3.6,"l":1.35,"h":5.65},{"t":1.47,"m":3.5,"l":1.3,"h":5.5},{"t":1.48,"m":3.35,"l":1.25,"h":5.4},{"t":1.49,"m":3.4,"l":1.5,"h":5.6},{"t":1.5,"m":3.65,"l":1.95,"h":5.9},{"t":1.51,"m":4.1,"l":2.0,"h":6.3},{"t":1.52,"m":4.25,"l":1.9,"h":6.2},{"t":1.53,"m":4.35,"l":1.85,"h":6.05},{"t":1.54,"m":4.2,"l":1.75,"h":6.1},{"t":1.55,"m":4.3,"l":1.7,"h":5.95},{"t":1.56,"m":4.1,"l":1.6,"h":6.05},{"t":1.57,"m":4.0,"l":1.65,"h":5.85},{"t":1.58,"m":3.85,"l":1.55,"h":5.7},{"t":1.59,"m":3.75,"l":1.6,"h":5.6},{"t":1.6,"m":3.85,"l":1.5,"h":5.75},{"t":1.61,"m":3.7,"l":1.55,"h":5.9},{"t":1.62,"m":3.8,"l":1.45,"h":6.05},{"t":1.63,"m":3.7,"l":1.5,"h":6.2},{"t":1.64,"m":3.85,"l":1.55,"h":6.4},{"t":1.65,"m":3.75,"l":1.45,"h":6.25},{"t":1.66,"m":3.9,"l":1.5,"h":6.15},{"t":1.67,"m":3.8,"l":1.45,"h":6.0},{"t":1.68,"m":3.95,"l":1.55,"h":6.1},{"t":1.69,"m":3.85,"l":1.6,"h":5.95},{"t":1.7,"m":4.0,"l":1.7,"h":5.8},{"t":1.71,"m":3.9,"l":1.65,"h":5.6},{"t":1.72,"m":3.85,"l":1.6,"h":5.45},{"t":1.73,"m":3.75,"l":1.7,"h":5.6},{"t":1.74,"m":3.8,"l":1.65,"h":5.9},{"t":1.75,"m":3.7,"l":1.6,"h":6.1},{"t":1.76,"m":3.6,"l":1.55,"h":6.0},{"t":1.77,"m":3.4,"l":1.5,"h":6.05},{"t":1.78,"m":3.25,"l":1.45,"h":6.15},{"t":1.79,"m":3.6,"l":1.55,"h":6.0},{"t":1.8,"m":3.9,"l":1.65,"h":6.05},{"t":1.81,"m":3.8,"l":1.6,"h":5.95},{"t":1.82,"m":3.95,"l":1.7,"h":6.1},{"t":1.83,"m":3.85,"l":1.65,"h":6.0},{"t":1.84,"m":3.8,"l":1.75,"h":6.15},{"t":1.85,"m":3.9,"l":1.7,"h":6.05},{"t":1.86,"m":4.0,"l":1.65,"h":6.1},{"t":1.87,"m":3.9,"l":1.7,"h":6.0},{"t":1.88,"m":4.05,"l":1.6,"h":6.15},{"t":1.89,"m":3.95,"l":1.7,"h":6.05},{"t":1.9,"m":4.1,"l":1.65,"h":6.2},{"t":1.91,"m":3.95,"l":1.6,"h":6.3},{"t":1.92,"m":4.0,"l":1.7,"h":6.4},{"t":1.93,"m":3.85,"l":1.8,"h":6.3},{"t":1.94,"m":3.95,"l":1.9,"h":6.45},{"t":1.95,"m":4.05,"l":2.0,"h":6.35},{"t":1.96,"m":3.9,"l":2.1,"h":6.5},{"t":1.97,"m":4.1,"l":2.05,"h":6.4},{"t":1.98,"m":3.95,"l":2.1,"h":6.45},{"t":1.99,"m":4.15,"l":2.05,"h":6.35},{"t":2.0,"m":3.95,"l":2.0,"h":6.4}
]
},
"vconcat":[
{
 "title":"SKAP1 1u5d",
 "width":844,"height":248,
 "data":{"name":"a"},
 "layer":[
  {"mark":{"type":"area","color":"#eedbd3","opacity":1},
   "encoding":{
    "x":{"field":"t","type":"quantitative","scale":{"domain":[0,2],"nice":false},"axis":{"values":[0,0.5,1,1.5,2],"format":".1f","title":"Time (µs)","labelPadding":27,"titlePadding":7}},
    "y":{"field":"h","type":"quantitative","scale":{"domain":[0,10],"nice":false},"axis":{"values":[0,2,4,6,8,10],"format":"d","title":"Number","labelPadding":24,"titlePadding":10}},
    "y2":{"field":"l"}}},
  {"mark":{"type":"line","color":"#600000","strokeWidth":4.5},
   "encoding":{"x":{"field":"t","type":"quantitative","axis":null},"y":{"field":"m","type":"quantitative","axis":null}}},
  {"mark":{"type":"line","opacity":0},
   "encoding":{
    "x":{"field":"t","type":"quantitative","axis":{"orient":"top","values":[0,0.5,1,1.5,2],"labels":false,"title":null}},
    "y":{"field":"m","type":"quantitative","axis":{"orient":"right","values":[0,2,4,6,8,10],"labels":false,"title":null}}}}
 ],
 "resolve":{"axis":{"x":"independent","y":"independent"}}
},
{
 "title":"Arhgef18 6bcb",
 "width":844,"height":248,
 "data":{"name":"b"},
 "layer":[
  {"mark":{"type":"area","color":"#eedbd3","opacity":1},
   "encoding":{
    "x":{"field":"t","type":"quantitative","scale":{"domain":[0,2],"nice":false},"axis":{"values":[0,0.5,1,1.5,2],"format":".1f","title":"Time (µs)","labelPadding":27,"titlePadding":7}},
    "y":{"field":"h","type":"quantitative","scale":{"domain":[0,10],"nice":false},"axis":{"values":[0,2,4,6,8,10],"format":"d","title":"Number","labelPadding":24,"titlePadding":10}},
    "y2":{"field":"l"}}},
  {"mark":{"type":"line","color":"#600000","strokeWidth":4.5},
   "encoding":{"x":{"field":"t","type":"quantitative","axis":null},"y":{"field":"m","type":"quantitative","axis":null}}},
  {"mark":{"type":"line","opacity":0},
   "encoding":{
    "x":{"field":"t","type":"quantitative","axis":{"orient":"top","values":[0,0.5,1,1.5,2],"labels":false,"title":null}},
    "y":{"field":"m","type":"quantitative","axis":{"orient":"right","values":[0,2,4,6,8,10],"labels":false,"title":null}}}}
 ],
 "resolve":{"axis":{"x":"independent","y":"independent"}}
},
{
 "title":"DNM2 2ys1",
 "width":844,"height":248,
 "data":{"name":"c"},
 "layer":[
  {"mark":{"type":"area","color":"#eedbd3","opacity":1},
   "encoding":{
    "x":{"field":"t","type":"quantitative","scale":{"domain":[0,2],"nice":false},"axis":{"values":[0,0.5,1,1.5,2],"format":".1f","title":"Time (µs)","labelPadding":27,"titlePadding":7}},
    "y":{"field":"h","type":"quantitative","scale":{"domain":[0,10],"nice":false},"axis":{"values":[0,2,4,6,8,10],"format":"d","title":"Number","labelPadding":24,"titlePadding":10}},
    "y2":{"field":"l"}}},
  {"mark":{"type":"line","color":"#600000","strokeWidth":4.5},
   "encoding":{"x":{"field":"t","type":"quantitative","axis":null},"y":{"field":"m","type":"quantitative","axis":null}}},
  {"mark":{"type":"line","opacity":0},
   "encoding":{
    "x":{"field":"t","type":"quantitative","axis":{"orient":"top","values":[0,0.5,1,1.5,2],"labels":false,"title":null}},
    "y":{"field":"m","type":"quantitative","axis":{"orient":"right","values":[0,2,4,6,8,10],"labels":false,"title":null}}}}
 ],
 "resolve":{"axis":{"x":"independent","y":"independent"}}
}
]
}
